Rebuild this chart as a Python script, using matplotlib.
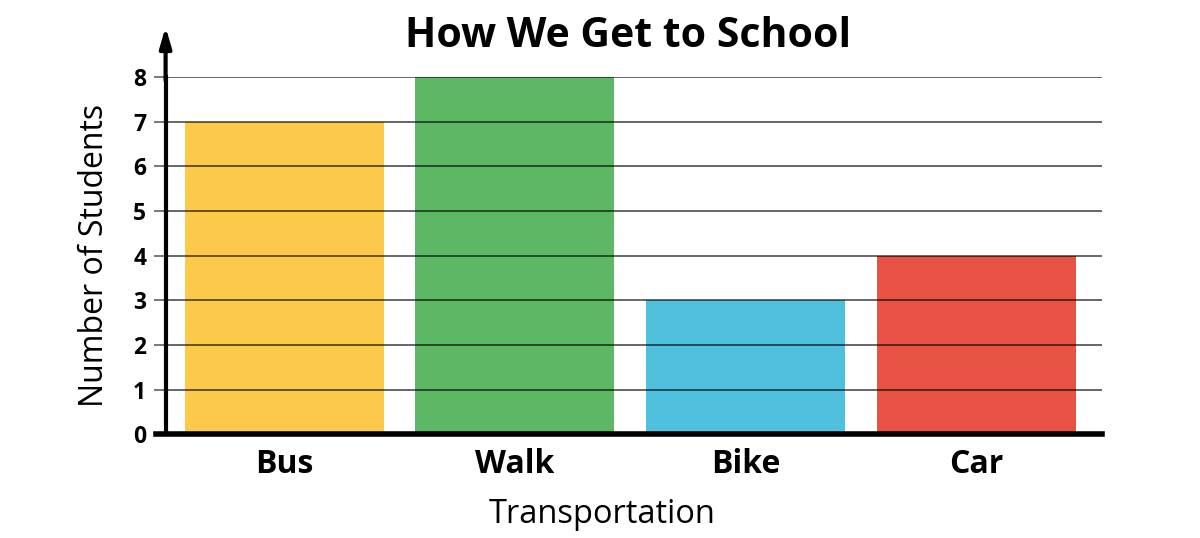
import matplotlib
matplotlib.use("Agg")
import matplotlib.pyplot as plt

categories = ["Bus", "Walk", "Bike", "Car"]
values = [7, 8, 3, 4]
colors = ["#FDC94A", "#5DB866", "#50C0DF", "#E85244"]
yticks = [0, 1, 2, 3, 4, 5, 6, 7, 8]

plt.rcParams['font.family'] = ['Open Sans', 'DejaVu Sans']

fig = plt.figure(figsize=(12, 5.38), dpi=100)
ax = fig.add_axes([0.138, 0.193, 0.780, 0.664])

x = list(range(len(categories)))
ax.bar(x, values, width=0.862, color=colors, zorder=1)
for t in yticks[1:]:
    ax.axhline(t, color="black", alpha=0.6, lw=1.4, zorder=3)

ax.set_xlim(-0.514, 3.544)
ax.set_ylim(0, 8)
ax.set_yticks(yticks)
ax.set_yticklabels([str(t) for t in yticks], fontweight="bold", fontsize=16.5)
ax.set_xticks(x)
ax.set_xticklabels(categories, fontweight="bold", fontsize=23)
ax.tick_params(axis="y", length=9, width=1.4, color="#777777", pad=5)
ax.tick_params(axis="x", length=0, pad=10)

for s in ["top", "right"]:
    ax.spines[s].set_visible(False)
ax.spines["left"].set_linewidth(3)
ax.spines["bottom"].set_linewidth(4)
ax.spines["bottom"].set_bounds(-0.514 - 0.04, 3.544)
ax.spines["left"].set_zorder(5)
ax.spines["bottom"].set_zorder(5)

ax.annotate("", xy=(0, 1.14), xytext=(0, 0.99), xycoords="axes fraction",
            arrowprops=dict(arrowstyle="-|>,head_width=0.35,head_length=1.2",
                            color="black", lw=3, shrinkA=0, shrinkB=0),
            annotation_clip=False)

ax.set_ylabel("Number of Students", fontsize=23, labelpad=16)
ax.set_xlabel("Transportation", fontsize=23.5, labelpad=11)
ax.xaxis.set_label_coords(0.466, -0.178)
fig.text(0.523, 0.932, "How We Get to School", ha="center", va="center",
         fontsize=29.5, fontweight="bold")

fig.savefig("out.png", dpi=100)
